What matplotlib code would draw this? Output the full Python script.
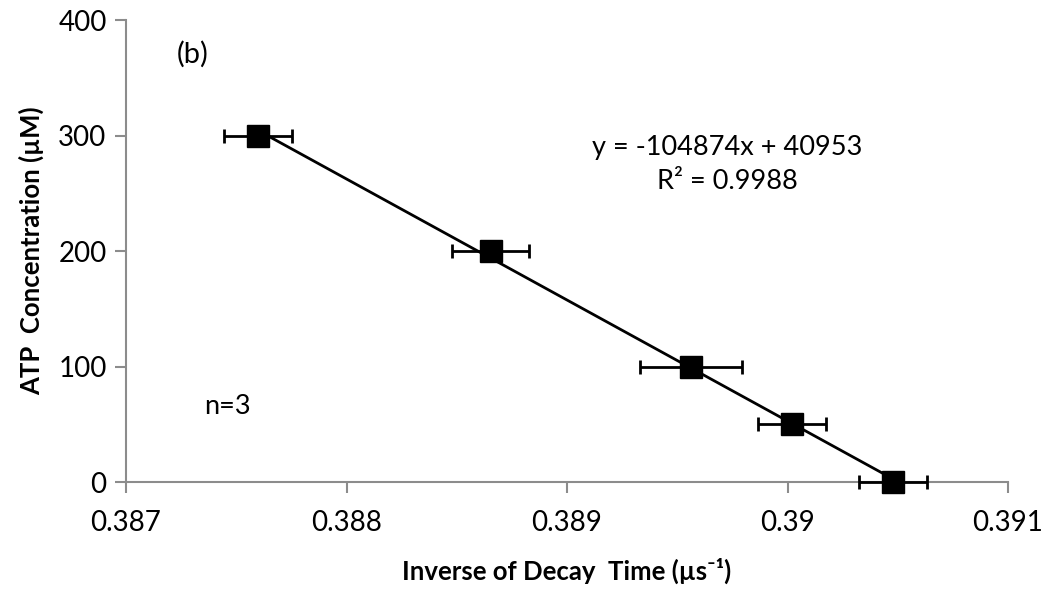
import matplotlib
matplotlib.use('Agg')
import matplotlib.pyplot as plt
import numpy as np

# ATP calibration data
atp_conc = [300, 200, 100, 50, 0]
inv_decay = [0.38760, 0.388654, 0.389564, 0.39002, 0.390478]
inv_decay_err = [0.000154, 0.000174, 0.000231, 0.000154, 0.000154]

x_ticks = [0.387, 0.388, 0.389, 0.390, 0.391]
x_tick_labels = ['0.387', '0.388', '0.389', '0.39', '0.391']
y_ticks = [0, 100, 200, 300, 400]

fit_text = 'y = -104874x + 40953\nR² = 0.9988'

plt.rcParams['font.family'] = ['Lato', 'DejaVu Sans']

fig = plt.figure(figsize=(10.52, 5.91), dpi=100)
ax = fig.add_axes([0.1198, 0.1844, 0.8384, 0.7817])

# linear trendline over the data range
coef = np.polyfit(inv_decay, atp_conc, 1)
xl = np.array([min(inv_decay), max(inv_decay)])
ax.plot(xl, np.polyval(coef, xl), color='black', lw=2, zorder=2)

eb = ax.errorbar(inv_decay, atp_conc, xerr=inv_decay_err, fmt='s', color='black',
                 ms=16, ecolor='black', elinewidth=2, capsize=5, capthick=2, zorder=3)
for art in eb.lines[0:1] + tuple(eb.lines[1]) + tuple(eb.lines[2]):
    art.set_clip_on(False)

ax.set_xlim(0.387, 0.391)
ax.set_ylim(0, 400)
ax.set_xticks(x_ticks)
ax.set_xticklabels(x_tick_labels)
ax.set_yticks(y_ticks)

for s in ['top', 'right']:
    ax.spines[s].set_visible(False)
for s in ['left', 'bottom']:
    ax.spines[s].set_color('#8c8c8c')
    ax.spines[s].set_linewidth(1.5)
ax.tick_params(axis='both', direction='out', length=8, width=1.5, color='#8c8c8c',
               labelsize=20)
ax.tick_params(axis='x', pad=12)
ax.tick_params(axis='y', pad=6)

ax.set_xlabel('Inverse of Decay  Time (µs⁻¹)', fontsize=18.5, fontweight='bold', labelpad=16)
ax.set_ylabel('ATP  Concentration (µM)', fontsize=18.5, fontweight='bold', labelpad=10)

ax.text(0.387304, 370, '(b)', fontsize=21, ha='center', va='center')
ax.text(0.38746, 65, 'n=3', fontsize=19.5, ha='center', va='center')
ax.text(0.389726, 275, fit_text, fontsize=19.5, ha='center', va='center', linespacing=1.45)

fig.savefig('out.png', dpi=100)
